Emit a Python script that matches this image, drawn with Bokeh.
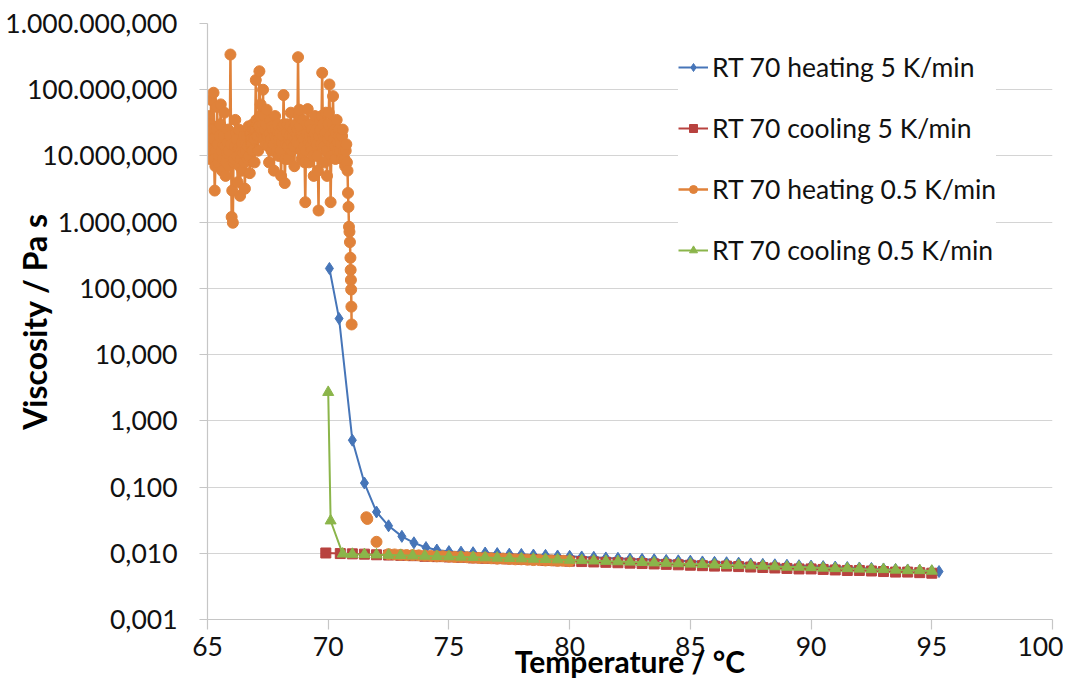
from bokeh.plotting import figure
from bokeh.models import FixedTicker, Legend, LegendItem, Range1d
from bokeh.embed import file_html
from bokeh.resources import INLINE

nan = float("nan")

# ---------------- data ----------------
Y_TICKS = [1e-3, 1e-2, 1e-1, 1, 10, 100, 1e3, 1e4, 1e5, 1e6]
Y_TICK_LABELS = ["0,001", "0,010", "0,100", "1,000", "10,000", "100,000",
                 "1.000,000", "10.000,000", "100.000,000", "1.000.000,000"]
X_TICKS = [65, 70, 75, 80, 85, 90, 95, 100]

SERIES_NAMES = ["RT 70 heating 5 K/min", "RT 70 cooling 5 K/min",
                "RT 70 heating 0.5 K/min", "RT 70 cooling 0.5 K/min"]
X_TITLE = "Temperature / °C"
Y_TITLE = "Viscosity / Pa s"

blue_temp = [70.05, 70.45, 71.0, 71.5, 72.0, 72.5, 73.05, 73.55, 74.05, 74.5,
             75.0, 75.5, 76.0, 76.5, 77.0, 77.5, 78.0, 78.5, 79.0, 79.5,
             80.0, 80.5, 81.0, 81.5, 82.0, 82.5, 83.0, 83.5, 84.0, 84.5,
             85.0, 85.5, 86.0, 86.5, 87.0, 87.5, 88.0, 88.5, 89.0, 89.5,
             90.0, 90.5, 91.0, 91.5, 92.0, 92.5, 93.0, 93.5, 94.0, 94.5,
             95.0, 95.3]
blue_visc = [200, 35, 0.51, 0.115, 0.042, 0.026, 0.018, 0.0144, 0.0122, 0.0112,
             0.0106, 0.0104, 0.0102, 0.0101, 0.0099, 0.0097, 0.0096, 0.0094, 0.0093, 0.0091,
             0.0090, 0.0088, 0.0087, 0.0085, 0.0084, 0.0082, 0.0081, 0.0080, 0.0078, 0.0077,
             0.0076, 0.0074, 0.0073, 0.0072, 0.0071, 0.0069, 0.0068, 0.0067, 0.0066, 0.0065,
             0.0064, 0.0063, 0.0062, 0.0061, 0.0060, 0.0059, 0.0058, 0.0057, 0.0056, 0.0055,
             0.0054, 0.0053]

red_temp = [69.9, 70.5, 71.0, 71.5, 72.0, 72.5, 73.0, 73.5, 74.0, 74.5,
            75.0, 75.5, 76.0, 76.5, 77.0, 77.5, 78.0, 78.5, 79.0, 79.5,
            80.0, 80.5, 81.0, 81.5, 82.0, 82.5, 83.0, 83.5, 84.0, 84.5,
            85.0, 85.5, 86.0, 86.5, 87.0, 87.5, 88.0, 88.5, 89.0, 89.5,
            90.0, 90.5, 91.0, 91.5, 92.0, 92.5, 93.0, 93.5, 94.0, 94.5,
            95.0]
red_visc = [0.0101, 0.0099, 0.0098, 0.0097, 0.0095, 0.0094, 0.0093, 0.0092, 0.0090, 0.0089,
            0.0088, 0.0087, 0.0085, 0.0084, 0.0083, 0.0082, 0.0081, 0.0080, 0.0078, 0.0077,
            0.0076, 0.0075, 0.0074, 0.0073, 0.0072, 0.0071, 0.0070, 0.0069, 0.0068, 0.0067,
            0.0066, 0.0065, 0.0064, 0.0064, 0.0063, 0.0062, 0.0061, 0.0060, 0.0059, 0.0058,
            0.0058, 0.0057, 0.0056, 0.0055, 0.0055, 0.0054, 0.0053, 0.0052, 0.0052, 0.0051,
            0.0050]

# heating 0.5 K/min: noisy solid region (two interleaved sampling sets)
orange_solid_temp_a = [65.00, 65.05, 65.10, 65.15, 65.20, 65.25, 65.30, 65.35, 65.40, 65.45,
                       65.50, 65.55, 65.60, 65.65, 65.70, 65.75, 65.80, 65.85, 65.90, 65.95,
                       66.00, 66.05, 66.10, 66.15, 66.20, 66.25, 66.30, 66.35, 66.40, 66.45,
                       66.50, 66.55, 66.60, 66.65, 66.70, 66.75, 66.80, 66.85, 66.90, 66.95,
                       67.00, 67.05, 67.10, 67.15, 67.20, 67.25, 67.30, 67.35, 67.40, 67.45,
                       67.50, 67.55, 67.60, 67.65, 67.70, 67.75, 67.80, 67.85, 67.90, 67.95,
                       68.00, 68.05, 68.10, 68.15, 68.20, 68.25, 68.30, 68.35, 68.40, 68.45,
                       68.50, 68.55, 68.60, 68.65, 68.70, 68.75, 68.80, 68.85, 68.90, 68.95,
                       69.00, 69.05, 69.10, 69.15, 69.20, 69.25, 69.30, 69.35, 69.40, 69.45,
                       69.50, 69.55, 69.60, 69.65, 69.70, 69.75, 69.80, 69.85, 69.90, 69.95,
                       70.00, 70.05, 70.10, 70.15, 70.20, 70.25, 70.30, 70.35, 70.40, 70.45,
                       70.50, 70.55, 70.60, 70.65, 70.70, 70.75, 70.80]
orange_solid_visc_a = [14000, 40000, 9000, 70000, 25000, 90000, 3000, 12000, 55000, 8000,
                       20000, 60000, 6000, 15000, 45000, 5000, 11000, 25000, 7000, 340000,
                       1200, 980, 9000, 35000, 18000, 4000, 25000, 2500, 12000, 6000,
                       20000, 3200, 15000, 9000, 28000, 5500, 18000, 12000, 25000, 8000,
                       140000, 30000, 12000, 190000, 60000, 25000, 100000, 40000, 15000, 50000,
                       20000, 8000, 35000, 12000, 25000, 6000, 40000, 18000, 30000, 10000,
                       22000, 5000, 28000, 83000, 3900, 15000, 30000, 9000, 20000, 45000,
                       12000, 25000, 7000, 30000, 16000, 310000, 50000, 20000, 9000, 35000,
                       14000, 2000, 22000, 51000, 8000, 30000, 12000, 18000, 5000, 40000,
                       25000, 10000, 1500, 35000, 15000, 180000, 20000, 8000, 45000, 5000,
                       30000, 120000, 2000, 15000, 80000, 25000, 9000, 35000, 12000, 20000,
                       18000, 9000, 25000, 12000, 7000, 15000, 6000]
orange_solid_temp_b = [65.025, 65.075, 65.125, 65.175, 65.225, 65.275, 65.325, 65.375, 65.425, 65.475,
                       65.525, 65.575, 65.625, 65.675, 65.725, 65.775, 65.825, 65.875, 65.925, 65.975,
                       66.025, 66.075, 66.125, 66.175, 66.225, 66.275, 66.325, 66.375, 66.425, 66.475,
                       66.525, 66.575, 66.625, 66.675, 66.725, 66.775, 66.825, 66.875, 66.925, 66.975,
                       67.025, 67.075, 67.125, 67.175, 67.225, 67.275, 67.325, 67.375, 67.425, 67.475,
                       67.525, 67.575, 67.625, 67.675, 67.725, 67.775, 67.825, 67.875, 67.925, 67.975,
                       68.025, 68.075, 68.125, 68.175, 68.225, 68.275, 68.325, 68.375, 68.425, 68.475,
                       68.525, 68.575, 68.625, 68.675, 68.725, 68.775, 68.825, 68.875, 68.925, 68.975,
                       69.025, 69.075, 69.125, 69.175, 69.225, 69.275, 69.325, 69.375, 69.425, 69.475,
                       69.525, 69.575, 69.625, 69.675, 69.725, 69.775, 69.825, 69.875, 69.925, 69.975,
                       70.025, 70.075, 70.125, 70.175, 70.225, 70.275, 70.325, 70.375, 70.425, 70.475,
                       70.525, 70.575, 70.625, 70.675, 70.725, 70.775]
orange_solid_visc_b = [20000, 15000, 30000, 12000, 18000, 9000, 7000, 25000, 15000, 10000,
                       30000, 12000, 9000, 20000, 14000, 8000, 16000, 12000, 20000, 15000,
                       3000, 8000, 14000, 22000, 10000, 13000, 7000, 9000, 16000, 11000,
                       8000, 12000, 20000, 14000, 10000, 22000, 15000, 30000, 18000, 25000,
                       35000, 20000, 28000, 40000, 22000, 30000, 18000, 25000, 30000, 20000,
                       14000, 22000, 18000, 28000, 15000, 20000, 25000, 12000, 22000, 18000,
                       12000, 16000, 20000, 30000, 9000, 22000, 14000, 18000, 28000, 16000,
                       20000, 14000, 18000, 22000, 25000, 40000, 28000, 12000, 20000, 18000,
                       8000, 12000, 30000, 16000, 20000, 14000, 25000, 10000, 22000, 18000,
                       15000, 6000, 20000, 25000, 40000, 30000, 14000, 22000, 12000, 18000,
                       45000, 20000, 10000, 30000, 18000, 14000, 22000, 16000, 25000, 12000,
                       15000, 20000, 10000, 9000, 12000, 8000]
# steep drop at melting
orange_drop_temp = [70.82, 70.84, 70.86, 70.88, 70.90, 70.92, 70.93, 70.94, 70.95, 70.96, 70.97]
orange_drop_visc = [2760, 1700, 850, 716, 500, 290, 190, 134, 96, 53, 28.5]
# isolated points
orange_spot_temp = [71.58, 71.62, 72.0]
orange_spot_visc = [0.035, 0.033, 0.0149]
# molten tail
orange_tail_temp = [72.5, 72.75, 73.0, 73.25, 73.5, 73.75, 74.0, 74.25, 74.5, 74.75,
                    75.0, 75.25, 75.5, 75.75, 76.0, 76.25, 76.5, 76.75, 77.0, 77.25,
                    77.5, 77.75, 78.0, 78.25, 78.5, 78.75, 79.0, 79.25, 79.5, 79.75, 80.0]
orange_tail_visc = [0.0097, 0.0096, 0.0095, 0.0094, 0.0094, 0.0093, 0.0092, 0.0091, 0.0090, 0.0090,
                    0.0089, 0.0088, 0.0088, 0.0087, 0.0086, 0.0085, 0.0085, 0.0084, 0.0083, 0.0083,
                    0.0082, 0.0081, 0.0081, 0.0080, 0.0079, 0.0079, 0.0078, 0.0078, 0.0077, 0.0077,
                    0.0076]

green_temp = [70.0, 70.1, 70.6, 71.0, 71.5, 72.0, 72.5, 73.0, 73.5, 74.0, 74.5,
              75.0, 75.5, 76.0, 76.5, 77.0, 77.5, 78.0, 78.5, 79.0, 79.5,
              80.0, 80.5, 81.0, 81.5, 82.0, 82.5, 83.0, 83.5, 84.0, 84.5,
              85.0, 85.5, 86.0, 86.5, 87.0, 87.5, 88.0, 88.5, 89.0, 89.5,
              90.0, 90.5, 91.0, 91.5, 92.0, 92.5, 93.0, 93.5, 94.0, 94.5,
              95.0]
green_visc = [2.7, 0.031, 0.0098, 0.0097, 0.0096, 0.0095, 0.0094, 0.0093, 0.0092, 0.0091, 0.0090,
              0.0089, 0.0088, 0.0087, 0.0086, 0.0085, 0.0084, 0.0083, 0.0082, 0.0081, 0.0080,
              0.0079, 0.0078, 0.0077, 0.0076, 0.0075, 0.0074, 0.0073, 0.0072, 0.0071, 0.0070,
              0.0069, 0.0068, 0.0067, 0.0066, 0.0066, 0.0065, 0.0064, 0.0063, 0.0062, 0.0062,
              0.0061, 0.0060, 0.0059, 0.0059, 0.0058, 0.0057, 0.0057, 0.0056, 0.0055, 0.0055,
              0.0054]

COLORS = ["#4675B8", "#B8423F", "#E0823A", "#8BB54A"]
FONT = "Lato"

# assemble the heating 0.5 K/min series (gaps between separate parts)
solid = sorted(zip(orange_solid_temp_a + orange_solid_temp_b,
                   orange_solid_visc_a + orange_solid_visc_b))
orange_temp = [t for t, _ in solid] + orange_drop_temp + [nan]
orange_visc = [v for _, v in solid] + orange_drop_visc + [nan]
orange_temp += orange_spot_temp[:2] + [nan, orange_spot_temp[2], nan] + orange_tail_temp
orange_visc += orange_spot_visc[:2] + [nan, orange_spot_visc[2], nan] + orange_tail_visc

# ---------------- figure ----------------
p = figure(width=1063, height=682, y_axis_type="log",
           x_range=Range1d(65, 100), y_range=Range1d(1e-3, 1e6),
           output_backend="svg", toolbar_location=None,
           min_border_left=207, min_border_right=11, min_border_top=23,
           min_border_bottom=63, outline_line_color=None,
           background_fill_color="white", border_fill_color="white")

GRAY = "#c6c6c6"

p.xgrid.visible = False
p.ygrid.grid_line_color = "#d4d4d4"
p.ygrid.grid_line_width = 1.2

p.yaxis.ticker = FixedTicker(ticks=Y_TICKS, minor_ticks=[])
p.yaxis.major_label_overrides = {t: l for t, l in zip(Y_TICKS, Y_TICK_LABELS)}
p.xaxis.ticker = FixedTicker(ticks=X_TICKS, minor_ticks=[])

for ax in (p.xaxis[0], p.yaxis[0]):
    ax.axis_line_color = GRAY
    ax.axis_line_width = 1.2
    ax.major_tick_line_color = GRAY
    ax.major_tick_line_width = 1.2
    ax.major_tick_in = 0
    ax.minor_tick_in = 0
    ax.minor_tick_out = 0
    ax.major_label_text_font = FONT
    ax.major_label_text_font_size = "26.5px"
    ax.major_label_text_color = "#111111"
    ax.axis_label_text_font = FONT
    ax.axis_label_text_font_style = "bold"
    ax.axis_label_text_color = "#000000"

p.xaxis.major_tick_out = 10
p.xaxis.major_label_standoff = 7
p.xaxis.axis_label = X_TITLE
p.xaxis.axis_label_text_font_size = "30px"
p.xaxis.axis_label_standoff = -16

p.yaxis.major_tick_out = 8
p.yaxis.major_label_standoff = 22
p.yaxis.axis_label = Y_TITLE
p.yaxis.axis_label_text_font_size = "32px"
p.yaxis.axis_label_standoff = -52

renderers = []
specs = [
    (blue_temp, blue_visc, COLORS[0], "diamond", 12, 2),
    (red_temp, red_visc, COLORS[1], "square", 10, 2),
    (orange_temp, orange_visc, COLORS[2], "circle", 11, 2.5),
    (green_temp, green_visc, COLORS[3], "triangle", 11, 2),
]
for xs, ys, c, m, s, lw in specs:
    ln = p.line(xs, ys, line_color=c, line_width=lw)
    sc = p.scatter(xs, ys, marker=m, size=s, fill_color=c, line_color=c)
    renderers.append([ln, sc])

legend = Legend(items=[LegendItem(label=n, renderers=r) for n, r in zip(SERIES_NAMES, renderers)],
                location=(471, 353), orientation="vertical",
                label_text_font=FONT, label_text_font_size="26.5px", label_text_color="#111111",
                glyph_width=30, glyph_height=20, label_height=20, label_standoff=4,
                spacing=29, padding=10, margin=0,
                border_line_color=None, background_fill_color="white",
                background_fill_alpha=1.0)
p.add_layout(legend)

open("out.html", "w").write(file_html(p, INLINE))
